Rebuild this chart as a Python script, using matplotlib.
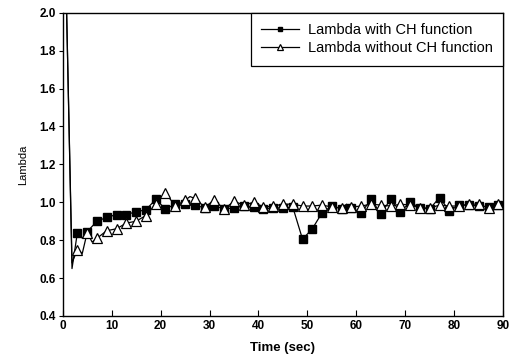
import matplotlib
matplotlib.use("Agg")
import matplotlib.pyplot as plt

plt.rcParams['font.family'] = ['Liberation Sans', 'DejaVu Sans']

# lambda with CH function (square markers)
t_ch = [0.8, 1.9, 3, 4, 5, 7, 9, 11, 13, 15, 17, 19, 21, 23, 25, 27, 29, 31, 33, 35,
        37, 39, 41, 43, 45, 47, 49, 51, 53, 55, 57, 59, 61, 63, 65, 67, 69, 71,
        73, 75, 77, 79, 81, 83, 85, 87, 89]
lam_ch = [2.0, 0.65, 0.84, 0.81, 0.845, 0.90, 0.92, 0.935, 0.935, 0.95, 0.96,
          1.015, 0.965, 0.99, 0.99, 0.985, 0.97, 0.98, 0.965, 0.97, 0.98, 0.975,
          0.965, 0.97, 0.97, 0.975, 0.805, 0.86, 0.945, 0.98, 0.965, 0.97, 0.945,
          1.015, 0.94, 1.015, 0.95, 1.0, 0.97, 0.965, 1.025, 0.955, 0.985, 0.985,
          0.98, 0.975, 0.985]

# lambda without CH function (triangle markers)
t_no = [0.8, 1.9, 3, 4, 5, 6, 7, 9, 11, 13, 15, 17, 19, 21, 23, 25, 26, 27, 29, 31,
        33, 35, 37, 39, 41, 43, 45, 47, 49, 51, 53, 55, 57, 58, 59, 61, 63, 65,
        67, 69, 71, 73, 75, 77, 79, 81, 83, 85, 87, 89]
lam_no = [2.0, 0.68, 0.75, 0.73, 0.84, 0.79, 0.81, 0.85, 0.86, 0.89, 0.90, 0.93,
          0.99, 1.05, 0.98, 1.01, 1.03, 1.02, 0.975, 1.01, 0.965, 1.005, 0.985,
          1.0, 0.975, 0.98, 0.99, 0.99, 0.98, 0.98, 0.985, 0.975, 0.97, 0.99,
          0.975, 0.98, 0.99, 0.985, 0.98, 0.99, 0.985, 0.97, 0.97, 0.985, 0.98,
          0.98, 0.99, 0.99, 0.97, 0.99]


def marked(ts):
    # markers only on the odd seconds, skipping the start-up spike
    return [i for i, t in enumerate(ts) if t % 2 == 1 and t >= 3]


fig = plt.figure(figsize=(5.14, 3.64), dpi=100)
ax = fig.add_axes([0.122, 0.132, 0.857, 0.833])

ax.plot(t_ch, lam_ch, color='black', lw=0.9, marker='s', ms=6,
        markevery=marked(t_ch), mfc='black', mec='black',
        label='Lambda with CH function')
ax.plot(t_no, lam_no, color='black', lw=0.9, marker='^', ms=6.5,
        markevery=marked(t_no), mfc='white', mec='black', mew=0.9,
        label='Lambda without CH function')

ax.set_xlim(0, 90)
ax.set_ylim(0.4, 2.0)
ax.set_xticks(range(0, 91, 10))
ax.set_yticks([0.4, 0.6, 0.8, 1.0, 1.2, 1.4, 1.6, 1.8, 2.0])
ax.set_yticklabels(['0.4', '0.6', '0.8', '1.0', '1.2', '1.4', '1.6', '1.8', '2.0'])
ax.tick_params(axis='x', direction='in', length=4, labelsize=8.5, pad=3)
ax.tick_params(axis='y', direction='out', length=3, labelsize=8.5, pad=2)
for lab in ax.get_xticklabels() + ax.get_yticklabels():
    lab.set_fontweight('bold')
for sp in ax.spines.values():
    sp.set_linewidth(1.0)

ax.set_xlabel('Time (sec)', fontsize=9.5, fontweight='bold', labelpad=7)
ax.set_ylabel('Lambda', fontsize=8, labelpad=8)

leg = ax.legend(loc='upper right', borderaxespad=0, fontsize=10.5,
                fancybox=False, framealpha=1, edgecolor='black',
                handlelength=2.6, handletextpad=0.6, borderpad=0.7,
                labelspacing=0.3, markerscale=0.6)
leg.get_frame().set_linewidth(0.9)

fig.savefig('out.png', dpi=100)
